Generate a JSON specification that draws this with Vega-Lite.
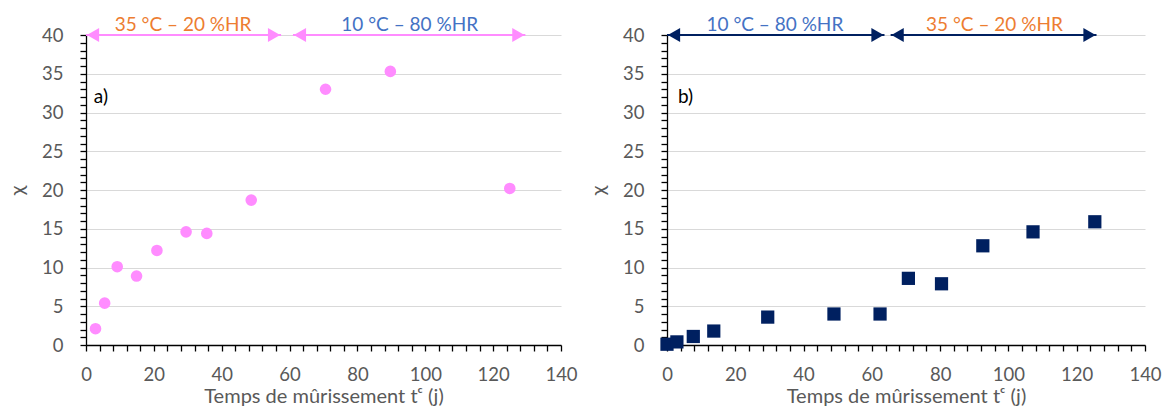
{
  "$schema": "https://vega.github.io/schema/vega-lite/v6.json",
  "background": "white",
  "padding": {"left": 7, "top": 16, "right": 5, "bottom": 2},
  "bounds": "flush",
  "spacing": 106,
  "config": {
    "view": {"stroke": null},
    "font": "Lato",
    "axis": {
      "domainColor": "#000000",
      "domainWidth": 1.3,
      "tickColor": "#000000",
      "tickWidth": 1.3,
      "tickSize": 6,
      "tickCount": 200,
      "format": "d",
      "gridColor": "#D9D9D9",
      "gridWidth": 1.2,
      "labelColor": "#595959",
      "labelFont": "Lato",
      "labelFontSize": 18.5,
      "labelOverlap": false,
      "titleColor": "#595959",
      "titleFont": "Lato",
      "titleFontSize": 20,
      "titleFontWeight": "normal"
    }
  },
  "datasets": {
    "pointsA": [
      {"x": 2.8, "y": 2.1}, {"x": 5.5, "y": 5.4}, {"x": 9.2, "y": 10.1}, {"x": 14.9, "y": 8.9},
      {"x": 20.9, "y": 12.2}, {"x": 29.5, "y": 14.6}, {"x": 35.6, "y": 14.4}, {"x": 48.7, "y": 18.7},
      {"x": 70.6, "y": 33.0}, {"x": 89.7, "y": 35.3}, {"x": 124.9, "y": 20.2}
    ],
    "pointsB": [
      {"x": 0, "y": 0.1}, {"x": 2.9, "y": 0.4}, {"x": 7.7, "y": 1.1}, {"x": 13.7, "y": 1.8},
      {"x": 29.5, "y": 3.6}, {"x": 48.9, "y": 4.0}, {"x": 62.4, "y": 4.0}, {"x": 70.7, "y": 8.6},
      {"x": 80.4, "y": 7.9}, {"x": 92.5, "y": 12.8}, {"x": 107.2, "y": 14.6}, {"x": 125.3, "y": 15.9}
    ],
    "arrowsA": [
      {"x": 0, "x2": 57.5, "y": 40, "mid": 28.6, "text": "35 °C – 20 %HR", "kind": "hot"},
      {"x": 61, "x2": 129.5, "y": 40, "mid": 95.4, "text": "10 °C – 80 %HR", "kind": "cold"}
    ],
    "arrowsB": [
      {"x": 0, "x2": 63.7, "y": 40, "mid": 31.6, "text": "10 °C – 80 %HR", "kind": "cold"},
      {"x": 65.5, "x2": 125.8, "y": 40, "mid": 95.9, "text": "35 °C – 20 %HR", "kind": "hot"}
    ],
    "tagA": [{"x": 2.3, "y": 32, "text": "a)"}],
    "tagB": [{"x": 3.2, "y": 32, "text": "b)"}]
  },
  "hconcat": [
    {
      "width": 475,
      "height": 310,
      "layer": [
        {
          "data": {"name": "pointsA"},
          "mark": {"type": "point", "shape": "circle", "filled": true, "size": 135, "color": "#FF8CFF", "opacity": 1},
          "encoding": {
            "x": {"field": "x", "type": "quantitative",
              "scale": {"domain": [0, 140], "nice": false, "zero": false},
              "axis": {
                "title": "Temps de mûrissement tᶜ  (j)",
                "values": [0,4,8,12,16,20,24,28,32,36,40,44,48,52,56,60,64,68,72,76,80,84,88,92,96,100,104,108,112,116,120,124,128,132,136,140],
                "tickCount": 200,
                "format": "d",
                "labelExpr": "datum.value % 20 === 0 ? datum.label : ''",
                "grid": false,
                "labelPadding": 14,
                "titlePadding": 3,
                "labelFlush": false,
                "encode": {"ticks": {"y": {"condition": {"test": "datum.value % 20 === 0", "value": -7}, "value": 0}, "y2": {"value": 6}}}
              }},
            "y": {"field": "y", "type": "quantitative",
              "scale": {"domain": [0, 40], "nice": false, "zero": false},
              "axis": {
                "title": "χ",
                "values": [0,1,2,3,4,5,6,7,8,9,10,11,12,13,14,15,16,17,18,19,20,21,22,23,24,25,26,27,28,29,30,31,32,33,34,35,36,37,38,39,40],
                "tickCount": 200,
                "format": "d",
                "labelExpr": "datum.value % 5 === 0 ? datum.label : ''",
                "gridOpacity": {"condition": {"test": "datum.value % 5 === 0", "value": 1}, "value": 0},
                "labelPadding": 17,
                "titlePadding": 14,
                "labelFlush": false,
                "encode": {"ticks": {"x": {"condition": {"test": "datum.value % 5 === 0", "value": 7}, "value": 0}, "x2": {"value": -6}}}
              }}
          }
        },
        {
          "data": {"name": "arrowsA"},
          "mark": {"type": "rule", "color": "#FF8CFF", "strokeWidth": 2},
          "encoding": {
            "x": {"field": "x", "type": "quantitative"},
            "x2": {"field": "x2"},
            "y": {"field": "y", "type": "quantitative"}
          }
        },
        {
          "data": {"name": "arrowsA"},
          "mark": {"type": "point", "shape": "triangle-left", "filled": true, "size": 200, "color": "#FF8CFF", "opacity": 1, "xOffset": 7},
          "encoding": {
            "x": {"field": "x", "type": "quantitative"},
            "y": {"field": "y", "type": "quantitative"}
          }
        },
        {
          "data": {"name": "arrowsA"},
          "mark": {"type": "point", "shape": "triangle-right", "filled": true, "size": 200, "color": "#FF8CFF", "opacity": 1, "xOffset": -7},
          "encoding": {
            "x": {"field": "x2", "type": "quantitative"},
            "y": {"field": "y", "type": "quantitative"}
          }
        },
        {
          "data": {"name": "arrowsA"},
          "mark": {"type": "text", "fontSize": 19, "dy": -10, "baseline": "middle", "align": "center"},
          "encoding": {
            "x": {"field": "mid", "type": "quantitative"},
            "y": {"field": "y", "type": "quantitative"},
            "text": {"field": "text"},
            "color": {"field": "kind", "type": "nominal", "scale": {"domain": ["hot", "cold"], "range": ["#ED7D31", "#4472C4"]}, "legend": null}
          }
        },
        {
          "data": {"name": "tagA"},
          "mark": {"type": "text", "fontSize": 19, "align": "left", "baseline": "middle", "color": "#000000"},
          "encoding": {
            "x": {"field": "x", "type": "quantitative"},
            "y": {"field": "y", "type": "quantitative"},
            "text": {"field": "text"}
          }
        }
      ]
    },
    {
      "width": 478,
      "height": 310,
      "layer": [
        {
          "data": {"name": "pointsB"},
          "mark": {"type": "point", "shape": "square", "filled": true, "size": 175, "color": "#002060", "opacity": 1},
          "encoding": {
            "x": {"field": "x", "type": "quantitative",
              "scale": {"domain": [0, 140], "nice": false, "zero": false},
              "axis": {
                "title": "Temps de mûrissement tᶜ (j)",
                "values": [0,4,8,12,16,20,24,28,32,36,40,44,48,52,56,60,64,68,72,76,80,84,88,92,96,100,104,108,112,116,120,124,128,132,136,140],
                "tickCount": 200,
                "format": "d",
                "labelExpr": "datum.value % 20 === 0 ? datum.label : ''",
                "grid": false,
                "labelPadding": 14,
                "titlePadding": 3,
                "labelFlush": false,
                "encode": {"ticks": {"y": {"condition": {"test": "datum.value % 20 === 0", "value": -7}, "value": 0}, "y2": {"value": 6}}}
              }},
            "y": {"field": "y", "type": "quantitative",
              "scale": {"domain": [0, 40], "nice": false, "zero": false},
              "axis": {
                "title": "χ",
                "values": [0,1,2,3,4,5,6,7,8,9,10,11,12,13,14,15,16,17,18,19,20,21,22,23,24,25,26,27,28,29,30,31,32,33,34,35,36,37,38,39,40],
                "tickCount": 200,
                "format": "d",
                "labelExpr": "datum.value % 5 === 0 ? datum.label : ''",
                "gridOpacity": {"condition": {"test": "datum.value % 5 === 0", "value": 1}, "value": 0},
                "labelPadding": 17,
                "titlePadding": 14,
                "labelFlush": false,
                "encode": {"ticks": {"x": {"condition": {"test": "datum.value % 5 === 0", "value": 7}, "value": 0}, "x2": {"value": -6}}}
              }}
          }
        },
        {
          "data": {"name": "arrowsB"},
          "mark": {"type": "rule", "color": "#002060", "strokeWidth": 2},
          "encoding": {
            "x": {"field": "x", "type": "quantitative"},
            "x2": {"field": "x2"},
            "y": {"field": "y", "type": "quantitative"}
          }
        },
        {
          "data": {"name": "arrowsB"},
          "mark": {"type": "point", "shape": "triangle-left", "filled": true, "size": 200, "color": "#002060", "opacity": 1, "xOffset": 7},
          "encoding": {
            "x": {"field": "x", "type": "quantitative"},
            "y": {"field": "y", "type": "quantitative"}
          }
        },
        {
          "data": {"name": "arrowsB"},
          "mark": {"type": "point", "shape": "triangle-right", "filled": true, "size": 200, "color": "#002060", "opacity": 1, "xOffset": -7},
          "encoding": {
            "x": {"field": "x2", "type": "quantitative"},
            "y": {"field": "y", "type": "quantitative"}
          }
        },
        {
          "data": {"name": "arrowsB"},
          "mark": {"type": "text", "fontSize": 19, "dy": -10, "baseline": "middle", "align": "center"},
          "encoding": {
            "x": {"field": "mid", "type": "quantitative"},
            "y": {"field": "y", "type": "quantitative"},
            "text": {"field": "text"},
            "color": {"field": "kind", "type": "nominal", "scale": {"domain": ["hot", "cold"], "range": ["#ED7D31", "#4472C4"]}, "legend": null}
          }
        },
        {
          "data": {"name": "tagB"},
          "mark": {"type": "text", "fontSize": 19, "align": "left", "baseline": "middle", "color": "#000000"},
          "encoding": {
            "x": {"field": "x", "type": "quantitative"},
            "y": {"field": "y", "type": "quantitative"},
            "text": {"field": "text"}
          }
        }
      ]
    }
  ]
}
